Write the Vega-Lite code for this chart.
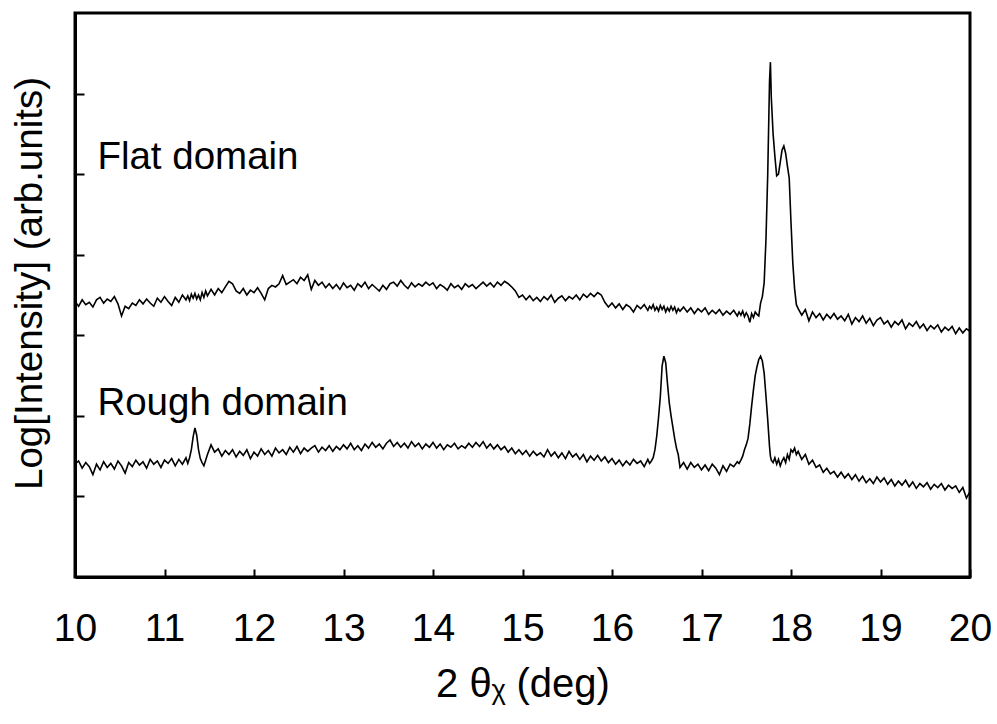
{
"$schema": "https://vega.github.io/schema/vega-lite/v6.json",
"width": 895, "height": 564,
"autosize": {"type": "none"},
"padding": {"left": 75, "top": 13, "right": 27, "bottom": 147},
"background": "white",
"config": {"view": {"stroke": "black", "strokeWidth": 3}, "font": "Liberation Sans"},
"data": {"values": [
{"x":10.00,"f":3.42,"r":1.40},{"x":10.04,"f":3.36,"r":1.44},{"x":10.08,"f":3.44,"r":1.35},{"x":10.12,"f":3.38,"r":1.42},{"x":10.16,"f":3.41,"r":1.37},{"x":10.20,"f":3.35,"r":1.27},{"x":10.24,"f":3.44,"r":1.40},{"x":10.28,"f":3.47,"r":1.33},{"x":10.32,"f":3.40,"r":1.43},{"x":10.36,"f":3.45,"r":1.36},{"x":10.40,"f":3.42,"r":1.41},{"x":10.44,"f":3.48,"r":1.34},{"x":10.48,"f":3.39,"r":1.44},{"x":10.52,"f":3.24,"r":1.38},{"x":10.56,"f":3.36,"r":1.29},{"x":10.60,"f":3.33,"r":1.42},{"x":10.64,"f":3.40,"r":1.37},{"x":10.68,"f":3.37,"r":1.45},{"x":10.72,"f":3.44,"r":1.39},{"x":10.76,"f":3.39,"r":1.43},{"x":10.80,"f":3.45,"r":1.35},{"x":10.84,"f":3.40,"r":1.46},{"x":10.88,"f":3.36,"r":1.40},{"x":10.92,"f":3.46,"r":1.44},{"x":10.96,"f":3.41,"r":1.36},{"x":11.00,"f":3.48,"r":1.45},{"x":11.04,"f":3.42,"r":1.41},{"x":11.08,"f":3.37,"r":1.47},{"x":11.12,"f":3.47,"r":1.38},{"x":11.16,"f":3.41,"r":1.46},{"x":11.20,"f":3.50,"r":1.40},{"x":11.24,"f":3.44,"r":1.48},
{"x":11.26,"f":3.49,"r":1.41},{"x":11.28,"f":3.43,"r":1.48},{"x":11.30,"f":3.51,"r":1.58},{"x":11.32,"f":3.46,"r":1.74},{"x":11.34,"f":3.52,"r":1.85},{"x":11.36,"f":3.45,"r":1.76},{"x":11.38,"f":3.50,"r":1.58},{"x":11.40,"f":3.44,"r":1.47},{"x":11.42,"f":3.53,"r":1.42},{"x":11.44,"f":3.47,"r":1.38},{"x":11.46,"f":3.55,"r":1.45},
{"x":11.48,"f":3.49,"r":1.52},{"x":11.52,"f":3.57,"r":1.64},{"x":11.56,"f":3.50,"r":1.55},{"x":11.60,"f":3.58,"r":1.59},{"x":11.64,"f":3.53,"r":1.50},{"x":11.68,"f":3.60,"r":1.57},{"x":11.72,"f":3.67,"r":1.52},{"x":11.76,"f":3.64,"r":1.58},{"x":11.80,"f":3.55,"r":1.49},{"x":11.84,"f":3.52,"r":1.56},{"x":11.88,"f":3.58,"r":1.51},{"x":11.92,"f":3.50,"r":1.58},{"x":11.96,"f":3.56,"r":1.47},{"x":12.00,"f":3.53,"r":1.55},
{"x":12.04,"f":3.59,"r":1.50},{"x":12.08,"f":3.52,"r":1.59},{"x":12.12,"f":3.44,"r":1.52},{"x":12.16,"f":3.58,"r":1.57},{"x":12.20,"f":3.62,"r":1.50},{"x":12.24,"f":3.60,"r":1.60},{"x":12.28,"f":3.64,"r":1.54},{"x":12.32,"f":3.74,"r":1.58},{"x":12.36,"f":3.63,"r":1.52},{"x":12.40,"f":3.66,"r":1.61},{"x":12.44,"f":3.69,"r":1.55},{"x":12.48,"f":3.64,"r":1.62},{"x":12.52,"f":3.72,"r":1.53},{"x":12.56,"f":3.68,"r":1.60},{"x":12.60,"f":3.75,"r":1.56},{"x":12.64,"f":3.57,"r":1.60},{"x":12.68,"f":3.68,"r":1.63},{"x":12.72,"f":3.62,"r":1.55},{"x":12.76,"f":3.66,"r":1.61},{"x":12.80,"f":3.59,"r":1.57},{"x":12.84,"f":3.64,"r":1.63},{"x":12.88,"f":3.58,"r":1.56},{"x":12.92,"f":3.63,"r":1.62},{"x":12.96,"f":3.57,"r":1.58},
{"x":13.00,"f":3.65,"r":1.64},{"x":13.04,"f":3.59,"r":1.59},{"x":13.08,"f":3.62,"r":1.66},{"x":13.12,"f":3.56,"r":1.58},{"x":13.16,"f":3.64,"r":1.63},{"x":13.20,"f":3.60,"r":1.57},{"x":13.24,"f":3.66,"r":1.65},{"x":13.28,"f":3.58,"r":1.60},{"x":13.32,"f":3.63,"r":1.67},{"x":13.36,"f":3.59,"r":1.61},{"x":13.40,"f":3.55,"r":1.65},{"x":13.44,"f":3.62,"r":1.59},{"x":13.48,"f":3.57,"r":1.66},{"x":13.52,"f":3.64,"r":1.70},{"x":13.56,"f":3.66,"r":1.62},{"x":13.60,"f":3.61,"r":1.67},{"x":13.64,"f":3.68,"r":1.61},{"x":13.68,"f":3.62,"r":1.66},{"x":13.72,"f":3.58,"r":1.60},{"x":13.76,"f":3.65,"r":1.68},{"x":13.80,"f":3.60,"r":1.62},{"x":13.84,"f":3.64,"r":1.66},{"x":13.88,"f":3.61,"r":1.59},{"x":13.92,"f":3.66,"r":1.65},{"x":13.96,"f":3.62,"r":1.61},
{"x":14.00,"f":3.65,"r":1.67},{"x":14.04,"f":3.58,"r":1.60},{"x":14.08,"f":3.63,"r":1.65},{"x":14.12,"f":3.60,"r":1.58},{"x":14.16,"f":3.56,"r":1.64},{"x":14.20,"f":3.64,"r":1.61},{"x":14.24,"f":3.59,"r":1.66},{"x":14.28,"f":3.62,"r":1.59},{"x":14.32,"f":3.57,"r":1.63},{"x":14.36,"f":3.64,"r":1.60},{"x":14.40,"f":3.60,"r":1.66},{"x":14.44,"f":3.63,"r":1.61},{"x":14.48,"f":3.58,"r":1.67},{"x":14.52,"f":3.62,"r":1.62},{"x":14.56,"f":3.66,"r":1.68},{"x":14.60,"f":3.61,"r":1.60},{"x":14.64,"f":3.65,"r":1.65},{"x":14.68,"f":3.60,"r":1.59},{"x":14.72,"f":3.66,"r":1.64},{"x":14.76,"f":3.62,"r":1.58},{"x":14.80,"f":3.67,"r":1.62},{"x":14.84,"f":3.64,"r":1.55},{"x":14.88,"f":3.60,"r":1.60},{"x":14.92,"f":3.55,"r":1.53},{"x":14.96,"f":3.47,"r":1.58},
{"x":15.00,"f":3.50,"r":1.52},{"x":15.04,"f":3.44,"r":1.57},{"x":15.08,"f":3.49,"r":1.50},{"x":15.12,"f":3.43,"r":1.56},{"x":15.16,"f":3.47,"r":1.51},{"x":15.20,"f":3.42,"r":1.54},{"x":15.24,"f":3.48,"r":1.49},{"x":15.28,"f":3.44,"r":1.58},{"x":15.32,"f":3.50,"r":1.50},{"x":15.36,"f":3.41,"r":1.55},{"x":15.40,"f":3.46,"r":1.48},{"x":15.44,"f":3.49,"r":1.54},{"x":15.48,"f":3.43,"r":1.47},{"x":15.52,"f":3.48,"r":1.56},{"x":15.56,"f":3.45,"r":1.49},{"x":15.60,"f":3.50,"r":1.53},{"x":15.64,"f":3.44,"r":1.46},{"x":15.68,"f":3.51,"r":1.52},{"x":15.72,"f":3.47,"r":1.43},{"x":15.76,"f":3.52,"r":1.50},{"x":15.80,"f":3.48,"r":1.45},{"x":15.84,"f":3.53,"r":1.51},{"x":15.88,"f":3.50,"r":1.44},{"x":15.92,"f":3.41,"r":1.49},{"x":15.96,"f":3.35,"r":1.42},
{"x":16.00,"f":3.40,"r":1.47},{"x":16.04,"f":3.34,"r":1.40},{"x":16.08,"f":3.39,"r":1.45},{"x":16.12,"f":3.32,"r":1.38},{"x":16.16,"f":3.38,"r":1.44},{"x":16.20,"f":3.35,"r":1.39},{"x":16.24,"f":3.29,"r":1.46},{"x":16.28,"f":3.37,"r":1.41},{"x":16.32,"f":3.33,"r":1.44},{"x":16.36,"f":3.38,"r":1.37},{"x":16.40,"f":3.31,"r":1.46},
{"x":16.42,"f":3.36,"r":1.41},{"x":16.44,"f":3.33,"r":1.44},{"x":16.46,"f":3.38,"r":1.48},{"x":16.48,"f":3.31,"r":1.58},{"x":16.50,"f":3.35,"r":1.75},{"x":16.52,"f":3.30,"r":1.98},{"x":16.54,"f":3.37,"r":2.24},{"x":16.56,"f":3.32,"r":2.62},{"x":16.58,"f":3.36,"r":2.74},{"x":16.60,"f":3.29,"r":2.66},{"x":16.62,"f":3.34,"r":2.40},{"x":16.64,"f":3.30,"r":2.16},{"x":16.66,"f":3.36,"r":2.00},{"x":16.68,"f":3.31,"r":1.86},{"x":16.70,"f":3.35,"r":1.72},{"x":16.72,"f":3.28,"r":1.60},{"x":16.74,"f":3.33,"r":1.52},{"x":16.76,"f":3.30,"r":1.36},
{"x":16.80,"f":3.35,"r":1.42},{"x":16.84,"f":3.29,"r":1.34},{"x":16.88,"f":3.34,"r":1.42},{"x":16.92,"f":3.27,"r":1.36},{"x":16.96,"f":3.33,"r":1.40},{"x":17.00,"f":3.29,"r":1.33},{"x":17.04,"f":3.34,"r":1.39},{"x":17.08,"f":3.26,"r":1.32},{"x":17.12,"f":3.31,"r":1.40},{"x":17.16,"f":3.27,"r":1.35},{"x":17.20,"f":3.32,"r":1.27},{"x":17.24,"f":3.25,"r":1.38},{"x":17.28,"f":3.30,"r":1.31},{"x":17.32,"f":3.26,"r":1.40},{"x":17.36,"f":3.31,"r":1.37},{"x":17.40,"f":3.24,"r":1.43},
{"x":17.42,"f":3.29,"r":1.41},{"x":17.44,"f":3.25,"r":1.45},{"x":17.46,"f":3.30,"r":1.50},{"x":17.48,"f":3.23,"r":1.58},{"x":17.50,"f":3.28,"r":1.64},{"x":17.52,"f":3.24,"r":1.72},{"x":17.54,"f":3.16,"r":1.90},{"x":17.56,"f":3.27,"r":2.12},{"x":17.58,"f":3.22,"r":2.32},{"x":17.60,"f":3.29,"r":2.50},{"x":17.62,"f":3.26,"r":2.61},{"x":17.64,"f":3.24,"r":2.70},{"x":17.66,"f":3.40,"r":2.74},{"x":17.68,"f":3.48,"r":2.68},{"x":17.70,"f":3.65,"r":2.53},{"x":17.72,"f":4.18,"r":2.25},{"x":17.74,"f":5.00,"r":1.95},{"x":17.76,"f":6.15,"r":1.62},{"x":17.77,"f":6.39,"r":1.50},{"x":17.78,"f":5.95,"r":1.45},{"x":17.80,"f":5.50,"r":1.42},{"x":17.82,"f":5.22,"r":1.48},{"x":17.84,"f":4.98,"r":1.40},{"x":17.86,"f":5.00,"r":1.46},{"x":17.88,"f":5.15,"r":1.38},{"x":17.90,"f":5.30,"r":1.44},{"x":17.92,"f":5.35,"r":1.48},{"x":17.94,"f":5.26,"r":1.42},{"x":17.96,"f":5.10,"r":1.52},{"x":17.98,"f":4.95,"r":1.46},{"x":18.00,"f":4.40,"r":1.58},{"x":18.02,"f":3.90,"r":1.55},{"x":18.04,"f":3.58,"r":1.60},{"x":18.06,"f":3.38,"r":1.52},{"x":18.08,"f":3.33,"r":1.56},
{"x":18.12,"f":3.25,"r":1.46},{"x":18.16,"f":3.32,"r":1.52},{"x":18.20,"f":3.18,"r":1.40},{"x":18.24,"f":3.29,"r":1.45},{"x":18.28,"f":3.22,"r":1.36},{"x":18.32,"f":3.27,"r":1.39},{"x":18.36,"f":3.19,"r":1.30},{"x":18.40,"f":3.26,"r":1.35},{"x":18.44,"f":3.21,"r":1.28},{"x":18.48,"f":3.27,"r":1.31},{"x":18.52,"f":3.20,"r":1.24},{"x":18.56,"f":3.24,"r":1.30},{"x":18.60,"f":3.18,"r":1.23},{"x":18.64,"f":3.26,"r":1.28},{"x":18.68,"f":3.14,"r":1.21},{"x":18.72,"f":3.22,"r":1.27},{"x":18.76,"f":3.17,"r":1.19},{"x":18.80,"f":3.24,"r":1.25},{"x":18.84,"f":3.15,"r":1.17},{"x":18.88,"f":3.21,"r":1.22},{"x":18.92,"f":3.12,"r":1.16},{"x":18.96,"f":3.19,"r":1.24},
{"x":19.00,"f":3.22,"r":1.18},{"x":19.04,"f":3.14,"r":1.23},{"x":19.08,"f":3.18,"r":1.15},{"x":19.12,"f":3.10,"r":1.21},{"x":19.16,"f":3.17,"r":1.13},{"x":19.20,"f":3.13,"r":1.19},{"x":19.24,"f":3.19,"r":1.14},{"x":19.28,"f":3.08,"r":1.20},{"x":19.32,"f":3.15,"r":1.12},{"x":19.36,"f":3.11,"r":1.18},{"x":19.40,"f":3.17,"r":1.10},{"x":19.44,"f":3.09,"r":1.16},{"x":19.48,"f":3.14,"r":1.12},{"x":19.52,"f":3.06,"r":1.17},{"x":19.56,"f":3.12,"r":1.09},{"x":19.60,"f":3.08,"r":1.15},{"x":19.64,"f":3.13,"r":1.11},{"x":19.68,"f":3.04,"r":1.16},{"x":19.72,"f":3.10,"r":1.08},{"x":19.76,"f":3.06,"r":1.14},{"x":19.80,"f":3.11,"r":1.10},{"x":19.84,"f":3.02,"r":1.13},{"x":19.88,"f":3.09,"r":1.05},{"x":19.92,"f":3.03,"r":1.11},{"x":19.96,"f":3.08,"r":0.98},{"x":20.00,"f":3.05,"r":1.06}
]},
"layer": [
{"mark": {"type": "line", "color": "black", "strokeWidth": 1.6, "clip": true},
 "encoding": {
  "x": {"field": "x", "type": "quantitative", "title": "2 θᵪ (deg)",
        "scale": {"domain": [10, 20], "nice": false, "zero": false},
        "axis": {"values": [10,11,12,13,14,15,16,17,18,19,20], "format": "d", "grid": false,
                 "domainColor": "black", "domainWidth": 3, "tickColor": "black", "tickWidth": 2, "tickSize": -8,
                 "labelFontSize": 39, "labelColor": "black", "labelPadding": 40, "labelFlush": false, "labelOverlap": false,
                 "labelFont": "Liberation Sans",
                 "titleFontSize": 40, "titleFontWeight": "normal", "titleColor": "black", "titleFont": "Liberation Sans", "titlePadding": 16}},
  "y": {"field": "f", "type": "quantitative", "title": "Log[Intensity] (arb.units)",
        "scale": {"domain": [0, 7], "nice": false, "zero": false},
        "axis": {"values": [1,2,3,4,5,6], "labels": false, "grid": false,
                 "domainColor": "black", "domainWidth": 3, "tickColor": "black", "tickWidth": 2, "tickSize": -9,
                 "titleFontSize": 38.5, "titleFontWeight": "normal", "titleColor": "black", "titleFont": "Liberation Sans",
                 "titleX": -46, "titleY": 270, "titleBaseline": "middle", "titleAlign": "center", "titleAngle": -90}}
 }},
{"mark": {"type": "line", "color": "black", "strokeWidth": 1.6, "clip": true},
 "encoding": {
  "x": {"field": "x", "type": "quantitative", "title": "2 θᵪ (deg)"},
  "y": {"field": "r", "type": "quantitative", "title": "Log[Intensity] (arb.units)"}
 }},
{"data": {"values": [{"x": 10.25, "y": 5.07, "t": "Flat domain"}, {"x": 10.25, "y": 2.01, "t": "Rough domain"}]},
 "mark": {"type": "text", "align": "left", "baseline": "alphabetic", "fontSize": 38.5, "font": "Liberation Sans", "color": "black"},
 "encoding": {
  "x": {"field": "x", "type": "quantitative", "title": "2 θᵪ (deg)"},
  "y": {"field": "y", "type": "quantitative", "title": "Log[Intensity] (arb.units)"},
  "text": {"field": "t", "type": "nominal"}
 }}
]
}
